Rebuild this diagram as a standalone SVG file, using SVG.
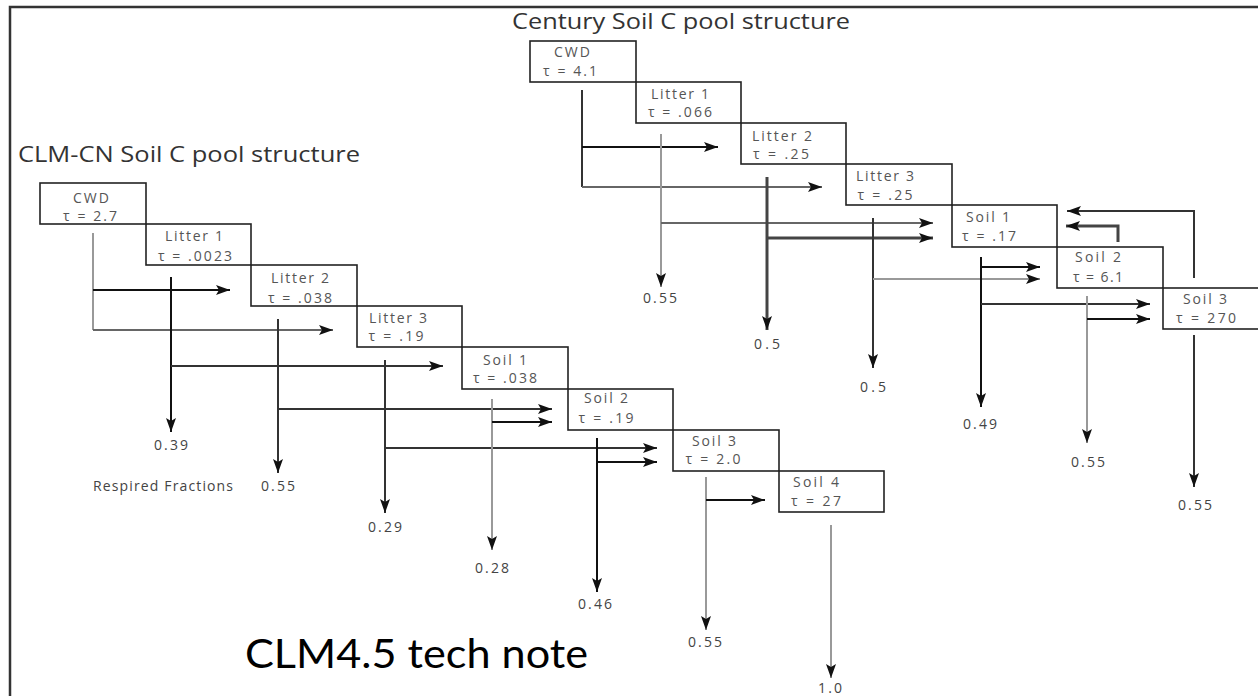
<svg xmlns="http://www.w3.org/2000/svg" width="1258" height="696" viewBox="0 0 1258 696">
<style>
.box{fill:none;stroke:#222;stroke-width:1.6}
.bt{font-family:"Open Sans","DejaVu Sans",sans-serif;font-size:14px;fill:#555;text-anchor:middle}
.lb{font-family:"Open Sans","DejaVu Sans",sans-serif;font-size:14px;fill:#444;text-anchor:middle}
.title{font-family:"Open Sans","DejaVu Sans",sans-serif;font-size:21px;fill:#333}
.ln{fill:none;stroke-width:2}
.k{stroke:#111}.d{stroke:#333}.g{stroke:#999}.m{stroke:#666}.t{stroke:#444;stroke-width:3}
</style>
<defs>
<marker id="ah" markerUnits="userSpaceOnUse" markerWidth="15" markerHeight="11" refX="14" refY="5.5" orient="auto">
<path d="M0,0.5 L14,5.5 L0,10.5 L3,5.5 z" fill="#111"/>
</marker>
</defs>
<rect width="1258" height="696" fill="#fff"/>
<g id="frame"><path d="M10,696 V7 H1258" fill="none" stroke="#333" stroke-width="2.5"/></g>
<text id="title-clm" class="title" x="18" y="162" textLength="342" lengthAdjust="spacingAndGlyphs">CLM-CN Soil C pool structure</text>
<text id="title-century" class="title" x="512" y="29" textLength="338" lengthAdjust="spacingAndGlyphs">Century Soil C pool structure</text>
<g id="clm-cwd"><rect class="box" x="40" y="183" width="106" height="41"/><text class="bt" x="91" y="203" textLength="36">CWD</text><text class="bt" x="90" y="221" textLength="54">τ = 2.7</text></g>
<g id="clm-litter1"><rect class="box" x="146" y="224" width="105" height="41"/><text class="bt" x="194" y="241" textLength="58">Litter 1</text><text class="bt" x="195" y="261" textLength="74">τ = .0023</text></g>
<g id="clm-litter2"><rect class="box" x="251" y="265" width="106" height="41"/><text class="bt" x="300" y="283" textLength="58">Litter 2</text><text class="bt" x="300" y="303" textLength="64">τ = .038</text></g>
<g id="clm-litter3"><rect class="box" x="357" y="306" width="105" height="41"/><text class="bt" x="398" y="323" textLength="58">Litter 3</text><text class="bt" x="396" y="341" textLength="55">τ = .19</text></g>
<g id="clm-soil1"><rect class="box" x="462" y="347" width="106" height="42"/><text class="bt" x="505" y="365" textLength="44">Soil 1</text><text class="bt" x="505" y="383" textLength="64">τ = .038</text></g>
<g id="clm-soil2"><rect class="box" x="568" y="389" width="105" height="41"/><text class="bt" x="606" y="403" textLength="44">Soil 2</text><text class="bt" x="606" y="423" textLength="55">τ = .19</text></g>
<g id="clm-soil3"><rect class="box" x="673" y="430" width="106" height="41"/><text class="bt" x="714" y="446" textLength="44">Soil 3</text><text class="bt" x="713" y="464" textLength="55">τ = 2.0</text></g>
<g id="clm-soil4"><rect class="box" x="779" y="471" width="105" height="41"/><text class="bt" x="816" y="487" textLength="46">Soil 4</text><text class="bt" x="816" y="506" textLength="50">τ = 27</text></g>
<g id="cen-cwd"><rect class="box" x="530" y="41" width="106" height="41"/><text class="bt" x="572" y="57" textLength="36">CWD</text><text class="bt" x="570" y="76" textLength="54">τ = 4.1</text></g>
<g id="cen-litter1"><rect class="box" x="636" y="82" width="105" height="41"/><text class="bt" x="680" y="99" textLength="58">Litter 1</text><text class="bt" x="680" y="117" textLength="64">τ = .066</text></g>
<g id="cen-litter2"><rect class="box" x="741" y="123" width="105" height="41"/><text class="bt" x="782" y="141" textLength="60">Litter 2</text><text class="bt" x="781" y="159" textLength="56">τ = .25</text></g>
<g id="cen-litter3"><rect class="box" x="846" y="164" width="106" height="41"/><text class="bt" x="885" y="181" textLength="58">Litter 3</text><text class="bt" x="885" y="200" textLength="55">τ = .25</text></g>
<g id="cen-soil1"><rect class="box" x="952" y="205" width="105" height="42"/><text class="bt" x="988" y="222" textLength="44">Soil 1</text><text class="bt" x="989" y="241" textLength="54">τ = .17</text></g>
<g id="cen-soil2"><rect class="box" x="1057" y="247" width="106" height="41"/><text class="bt" x="1098" y="262" textLength="46">Soil 2</text><text class="bt" x="1098" y="282" textLength="50">τ = 6.1</text></g>
<g id="cen-soil3"><rect class="box" x="1163" y="288" width="106" height="41"/><text class="bt" x="1205" y="304" textLength="44">Soil 3</text><text class="bt" x="1206" y="323" textLength="60">τ = 270</text></g>
<g id="connectors">
<path class="ln g" d="M93,233 V330"/>
<path class="ln k" d="M93,290 H230" marker-end="url(#ah)"/>
<path class="ln m" d="M93,330 H333" marker-end="url(#ah)"/>
<path class="ln k" d="M171,277 V432" marker-end="url(#ah)"/>
<path class="ln d" d="M171,366 H443" marker-end="url(#ah)"/>
<path class="ln d" d="M278,319 V473" marker-end="url(#ah)"/>
<path class="ln d" d="M278,409 H552" marker-end="url(#ah)"/>
<path class="ln d" d="M385,360 V513" marker-end="url(#ah)"/>
<path class="ln d" d="M385,448 H657" marker-end="url(#ah)"/>
<path class="ln g" d="M492,399 V550" marker-end="url(#ah)"/>
<path class="ln k" d="M492,422 H552" marker-end="url(#ah)"/>
<path class="ln k" d="M597,438 V592" marker-end="url(#ah)"/>
<path class="ln k" d="M597,462 H657" marker-end="url(#ah)"/>
<path class="ln g" d="M706,477 V630" marker-end="url(#ah)"/>
<path class="ln k" d="M706,500 H765" marker-end="url(#ah)"/>
<path class="ln g" d="M831,525 V678" marker-end="url(#ah)"/>
<path class="ln d" d="M582,90 V187"/>
<path class="ln k" d="M582,147 H718" marker-end="url(#ah)"/>
<path class="ln m" d="M582,187 H822" marker-end="url(#ah)"/>
<path class="ln g" d="M661,134 V287" marker-end="url(#ah)"/>
<path class="ln m" d="M661,223 H933" marker-end="url(#ah)"/>
<path class="ln t" d="M767,177 V330" marker-end="url(#ah)"/>
<path class="ln t" d="M767,238 H933" marker-end="url(#ah)"/>
<path class="ln d" d="M873,218 V368" marker-end="url(#ah)"/>
<path class="ln g" d="M873,279 H1040" marker-end="url(#ah)"/>
<path class="ln k" d="M981,257 V407" marker-end="url(#ah)"/>
<path class="ln k" d="M981,267 H1040" marker-end="url(#ah)"/>
<path class="ln d" d="M981,304 H1150" marker-end="url(#ah)"/>
<path class="ln g" d="M1087,296 V443" marker-end="url(#ah)"/>
<path class="ln k" d="M1087,319 H1150" marker-end="url(#ah)"/>
<path class="ln t" d="M1118,242 V226 H1066" marker-end="url(#ah)"/>
<path class="ln d" d="M1194,335 V487" marker-end="url(#ah)"/>
<path class="ln d" d="M1194,278 V211 H1067" marker-end="url(#ah)"/>
</g>
<g id="labels">
<text class="lb" x="171" y="450" textLength="34">0.39</text>
<text class="lb" x="278" y="491" textLength="34">0.55</text>
<text class="lb" x="385" y="532" textLength="34">0.29</text>
<text class="lb" x="492" y="573" textLength="34">0.28</text>
<text class="lb" x="595" y="609" textLength="34">0.46</text>
<text class="lb" x="705" y="647" textLength="34">0.55</text>
<text class="lb" x="830" y="693" textLength="24">1.0</text>
<text class="lb" x="660" y="303" textLength="34">0.55</text>
<text class="lb" x="767" y="349" textLength="26">0.5</text>
<text class="lb" x="873" y="392" textLength="26">0.5</text>
<text class="lb" x="980" y="429" textLength="34">0.49</text>
<text class="lb" x="1088" y="467" textLength="34">0.55</text>
<text class="lb" x="1195" y="510" textLength="34">0.55</text>
<text class="lb" x="233" y="491" style="text-anchor:end" textLength="140">Respired Fractions</text>
</g>
<text id="caption" x="245" y="668" font-family="Lato,'Open Sans',sans-serif" font-size="40" fill="#000" textLength="343" lengthAdjust="spacingAndGlyphs">CLM4.5 tech note</text>
</svg>
